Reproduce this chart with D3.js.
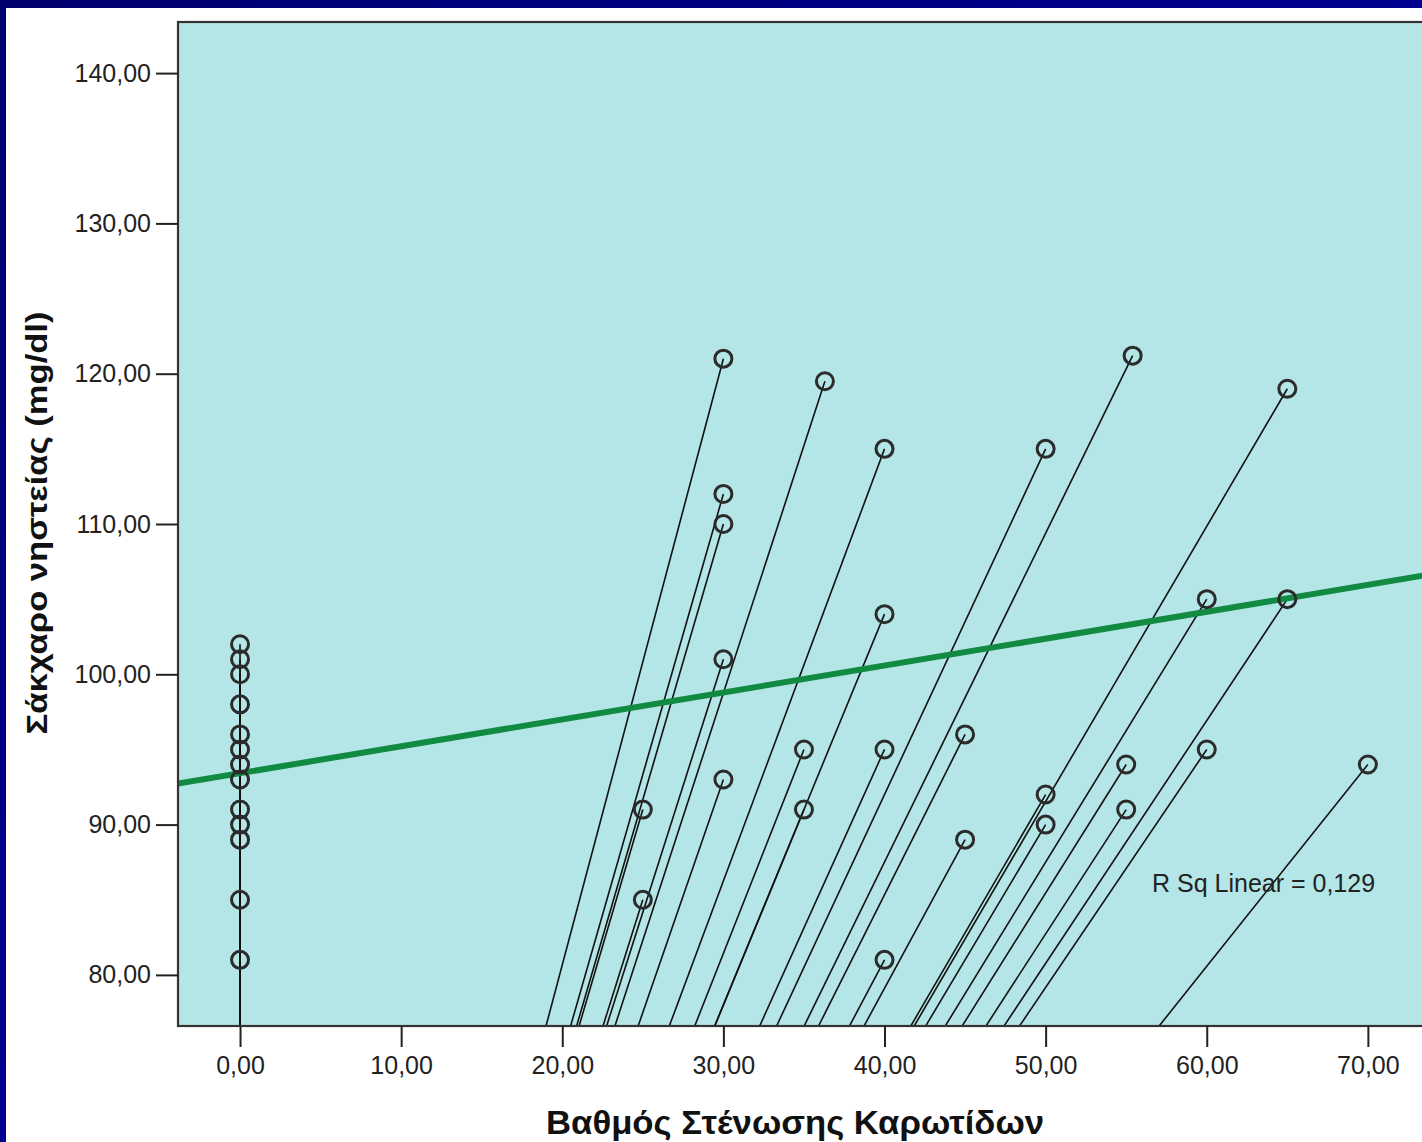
<!DOCTYPE html>
<html>
<head>
<meta charset="utf-8">
<script src="https://cdn.jsdelivr.net/npm/d3@7"></script>
<style>
  body { margin: 0; background: #fff; }
  svg { display: block; }
</style>
</head>
<body>
<div id="chart"></div>
<script>
// Βαθμός στένωσης (x) και σάκχαρο νηστείας (y), ένα σημείο ανά ασθενή
const stenosis = [
  0, 0, 0, 0, 0, 0, 0, 0, 0, 0, 0, 0, 0,
  25, 25,
  30, 30, 30, 30, 30,
  36.3,
  35, 35,
  40, 40, 40, 40,
  45, 45,
  50, 50, 50,
  55.4,
  55, 55,
  60, 60,
  65, 65,
  70
];
const glucose = [
  102, 101, 100, 98, 96, 95, 94, 93, 91, 90, 89, 85, 81,
  91, 85,
  121, 112, 110, 101, 93,
  119.5,
  95, 91,
  115, 104, 95, 81,
  96, 89,
  115, 92, 90,
  121.2,
  94, 91,
  105, 95,
  119, 105,
  94
];
const xTicks = [0, 10, 20, 30, 40, 50, 60, 70];
const yTicks = [80, 90, 100, 110, 120, 130, 140];
const fitIntercept = 93.42;
const fitSlope = 0.179;
const rSqLabel = "R Sq Linear = 0,129";
const xTitle = "Βαθμός Στένωσης Καρωτίδων";
const yTitle = "Σάκχαρο νηστείας (mg/dl)";

const width = 1422, height = 1142;
const plot = { left: 178, top: 22, right: 1432, bottom: 1026 };

const points = stenosis.map((s, i) => ({ x: s, y: glucose[i] }));

const grLocale = d3.formatLocale({ decimal: ",", thousands: ".", grouping: [3], currency: ["", "€"] });
const fmt = grLocale.format(".2f");

const svg = d3.select("#chart").append("svg")
  .attr("width", width)
  .attr("height", height);

const defs = svg.append("defs");
const grad = defs.append("linearGradient")
  .attr("id", "frameGrad")
  .attr("x1", 0).attr("y1", 0).attr("x2", 1).attr("y2", 1);
grad.append("stop").attr("offset", "0%").attr("stop-color", "#000070");
grad.append("stop").attr("offset", "100%").attr("stop-color", "#0000b0");

defs.append("clipPath").attr("id", "plotClip")
  .append("rect")
  .attr("x", plot.left).attr("y", plot.top)
  .attr("width", plot.right - plot.left).attr("height", plot.bottom - plot.top);

// blue slide frame and white page
svg.append("rect").attr("width", width).attr("height", height).attr("fill", "url(#frameGrad)");
svg.append("rect").attr("x", 6).attr("y", 8).attr("width", width - 6).attr("height", height - 8).attr("fill", "#fff");

const x = d3.scaleLinear().domain([-3.85, 73.98]).range([plot.left, plot.right]);
const y = d3.scaleLinear().domain([76.6, 143.4]).range([plot.bottom, plot.top]);

svg.append("rect")
  .attr("x", plot.left).attr("y", plot.top)
  .attr("width", plot.right - plot.left).attr("height", plot.bottom - plot.top)
  .attr("fill", "#b5e6e7");

const inner = svg.append("g").attr("clip-path", "url(#plotClip)");

// spikes to origin
inner.selectAll(".spike")
  .data(points)
  .join("line")
  .attr("class", "spike")
  .attr("x1", (d) => x(d.x))
  .attr("y1", (d) => y(d.y))
  .attr("x2", x(0))
  .attr("y2", y(0))
  .attr("stroke", "#111")
  .attr("stroke-width", 1.6);

// fit line
const [x0, x1] = x.domain();
inner.append("line")
  .attr("x1", x(x0)).attr("y1", y(fitIntercept + fitSlope * x0))
  .attr("x2", x(x1)).attr("y2", y(fitIntercept + fitSlope * x1))
  .attr("stroke", "#118a42")
  .attr("stroke-width", 6);

inner.selectAll(".pt")
  .data(points)
  .join("circle")
  .attr("class", "pt")
  .attr("cx", (d) => x(d.x))
  .attr("cy", (d) => y(d.y))
  .attr("r", 8.5)
  .attr("fill", "none")
  .attr("stroke", "#2b2b2b")
  .attr("stroke-width", 3);

inner.append("text")
  .attr("x", 1152)
  .attr("y", 892)
  .style("font-family", "'Liberation Sans', Arial, sans-serif")
  .style("font-size", "25px")
  .style("fill", "#222")
  .text(rSqLabel);

// frame border
svg.append("rect")
  .attr("x", plot.left).attr("y", plot.top)
  .attr("width", plot.right - plot.left).attr("height", plot.bottom - plot.top)
  .attr("fill", "none")
  .attr("stroke", "#333")
  .attr("stroke-width", 2.2);

const yAxis = svg.append("g")
  .attr("transform", `translate(${plot.left},0)`)
  .call(d3.axisLeft(y).tickValues(yTicks).tickFormat(fmt).tickSize(22).tickPadding(5));
const xAxis = svg.append("g")
  .attr("transform", `translate(0,${plot.bottom})`)
  .call(d3.axisBottom(x).tickValues(xTicks).tickFormat(fmt).tickSize(21).tickPadding(9));

[yAxis, xAxis].forEach((g) => {
  g.select(".domain").remove();
  g.selectAll(".tick line").attr("stroke", "#222").attr("stroke-width", 2);
  g.selectAll(".tick text")
    .style("font-family", "'Liberation Sans', Arial, sans-serif")
    .style("font-size", "25px")
    .style("fill", "#222");
});

svg.append("text")
  .attr("x", 795)
  .attr("y", 1134)
  .attr("text-anchor", "middle")
  .attr("textLength", 498)
  .attr("lengthAdjust", "spacingAndGlyphs")
  .style("font-family", "'Liberation Sans', Arial, sans-serif")
  .style("font-size", "33px")
  .style("font-weight", "bold")
  .style("fill", "#111")
  .text(xTitle);

svg.append("text")
  .attr("transform", "translate(47,523) rotate(-90)")
  .attr("text-anchor", "middle")
  .attr("textLength", 423)
  .attr("lengthAdjust", "spacingAndGlyphs")
  .style("font-family", "'Liberation Sans', Arial, sans-serif")
  .style("font-size", "30px")
  .style("font-weight", "bold")
  .style("fill", "#111")
  .text(yTitle);
</script>
</body>
</html>
